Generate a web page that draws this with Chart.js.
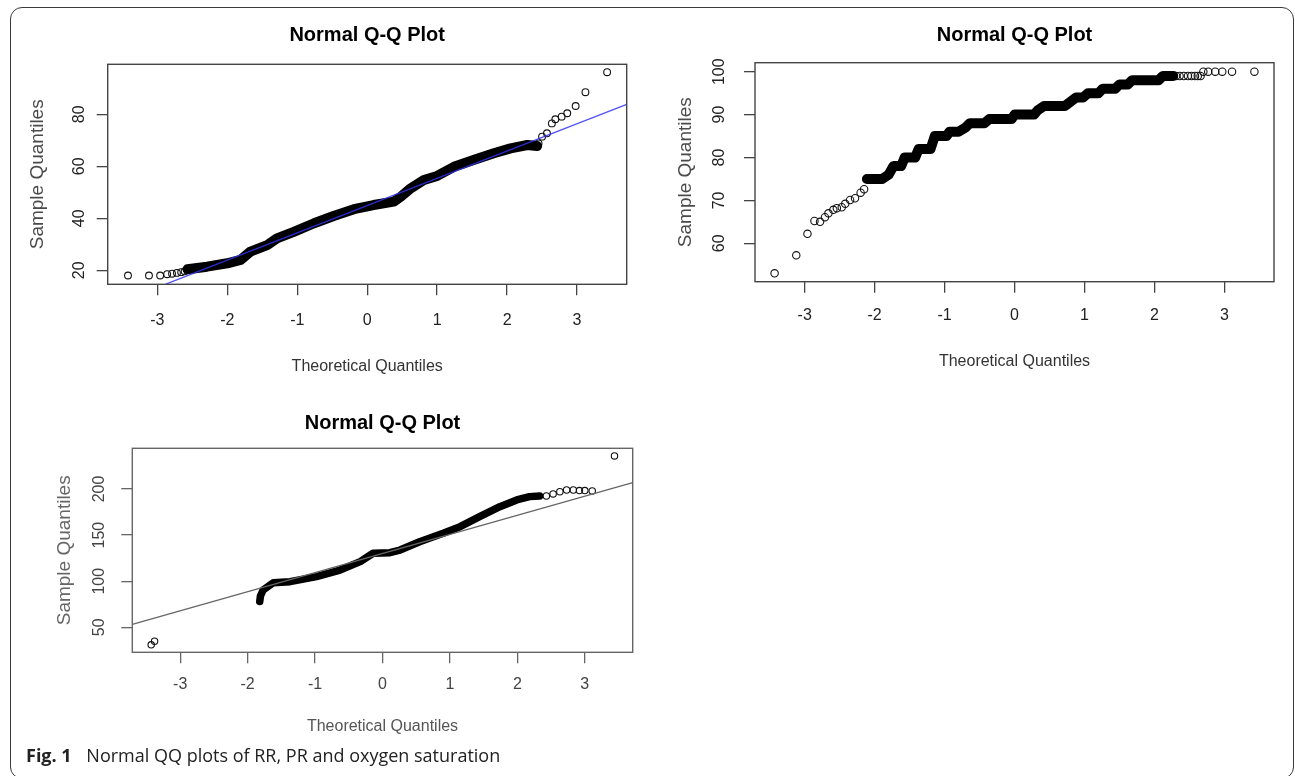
<!DOCTYPE html>
<html><head><meta charset="utf-8">
<script src="https://cdn.jsdelivr.net/npm/chart.js@4.4.1/dist/chart.umd.min.js"></script>
<style>
html,body{margin:0;padding:0;background:#fff;}
body{width:1295px;height:776px;position:relative;overflow:hidden;}
#frame{position:absolute;left:10px;top:7px;width:1284px;height:772px;border:1.5px solid #3a3a3a;border-radius:12px;box-sizing:border-box;}
canvas{position:absolute;}
#cap{position:absolute;left:26px;top:743px;font-family:'Open Sans','Noto Sans',sans-serif;font-size:18px;line-height:24px;color:#222;white-space:nowrap;}
#cap b{font-weight:700;margin-right:10px;}
</style></head><body>
<div id="frame"></div>
<canvas id="c1" width="620" height="375" style="left:15px;top:10px"></canvas>
<canvas id="c2" width="630" height="375" style="left:660px;top:10px"></canvas>
<canvas id="c3" width="610" height="350" style="left:40px;top:395px"></canvas>
<div id="cap"><b>Fig. 1</b> Normal QQ plots of RR, PR and oxygen saturation</div>
<script>
// ---- tick labels ----
const xTicks = [-3, -2, -1, 0, 1, 2, 3];
const yTicksRR = [20, 40, 60, 80];
const yTicksSpO2 = [60, 70, 80, 90, 100];
const yTicksPR = [50, 100, 150, 200];

// ---- Plot 1 (top left) ----
const rrLowTheo   = [-3.42, -3.12, -2.96, -2.86, -2.79, -2.72, -2.66, -2.61];
const rrLowSample = [18, 18, 18, 18.5, 18.7, 19, 19.3, 19.6];
const rrBandTheo   = [-2.57, -2.29, -2.0, -1.81, -1.67, -1.43, -1.29, -1.05, -0.76, -0.48, -0.19, 0.09, 0.38, 0.48, 0.62, 0.81, 1.0, 1.24, 1.52, 1.81, 2.05, 2.29, 2.43];
const rrBandSample = [20.4, 21.4, 22.7, 24, 27.2, 29.7, 32.3, 34.8, 38.1, 40.9, 43.5, 45.1, 46.4, 48.3, 51.5, 54.7, 56.3, 59.8, 62.4, 65, 66.9, 68.2, 67.8];
const rrHighTheo   = [2.45, 2.50, 2.57, 2.64, 2.69, 2.78, 2.86, 2.98, 3.12, 3.43];
const rrHighSample = [68.8, 71.4, 72.7, 76.5, 78.1, 79.1, 80.4, 83.2, 88.5, 96.2];
const rrLineTheo   = [-2.88, 3.71];
const rrLineSample = [14.7, 83.8];

// ---- Plot 2 (top right) ----
const spLowTheo   = [-3.43, -3.12, -2.96, -2.86, -2.78, -2.71, -2.66, -2.59, -2.54, -2.47, -2.42, -2.35, -2.28, -2.20, -2.15];
const spLowSample = [53.0, 57.2, 62.2, 65.2, 65.0, 66.1, 67.0, 67.8, 68.2, 68.4, 69.2, 70.1, 70.5, 71.8, 72.6];
const spBandTheo   = [-2.11, -1.89, -1.80, -1.73, -1.62, -1.57, -1.42, -1.37, -1.20, -1.14, -0.97, -0.93, -0.80, -0.70, -0.64, -0.43, -0.36, -0.04, 0.0, 0.28, 0.33, 0.42, 0.72, 0.80, 0.88, 0.98, 1.05, 1.20, 1.26, 1.44, 1.50, 1.62, 1.68, 2.06, 2.12, 2.27];
const spBandSample = [75, 75, 76, 78, 78, 80, 80, 82, 82, 85, 85, 86, 86, 87, 88, 88, 89, 89, 90, 90, 91, 92, 92, 93, 94, 94, 95, 95, 96, 96, 97, 97, 98, 98, 99, 99];
const spHighTheo   = [2.31, 2.36, 2.42, 2.48, 2.53, 2.58, 2.62, 2.66, 2.70, 2.77, 2.87, 2.97, 3.11, 3.43];
const spHighSample = [99, 99, 99, 99, 99, 99, 99, 99, 100, 100, 100, 100, 100, 100];

// ---- Plot 3 (bottom) ----
const prLowTheo   = [-3.43, -3.38];
const prLowSample = [31, 35];
const prBandTheo   = [-1.82, -1.81, -1.77, -1.62, -1.37, -0.98, -0.63, -0.33, -0.14, 0.11, 0.26, 0.55, 0.90, 1.15, 1.44, 1.74, 1.99, 2.18, 2.33];
const prBandSample = [78, 84, 90.5, 98.4, 99.5, 104.9, 112.1, 121.2, 130.3, 130.9, 133.8, 142.8, 152, 159.1, 170, 180.8, 188.1, 191.7, 192.4];
const prHighTheo   = [2.43, 2.53, 2.63, 2.73, 2.83, 2.92, 3.0, 3.11, 3.44];
const prHighSample = [192.4, 194.6, 197, 198.9, 198.9, 198.3, 198.3, 197.8, 235.8];
const prLineTheo   = [-3.71, 3.71];
const prLineSample = [53.3, 206.8];

Chart.defaults.font.family = "'Liberation Sans', Arial, sans-serif";

const pts = (xs, ys) => xs.map((x, i) => ({x: x, y: ys[i]}));

const framePlugin = {
  id: 'frame',
  afterDatasetsDraw(chart, args, opts) {
    const a = chart.chartArea, ctx = chart.ctx;
    ctx.save();
    ctx.strokeStyle = opts.color || '#444';
    ctx.lineWidth = 1.4;
    ctx.strokeRect(a.left, a.top, a.right - a.left, a.bottom - a.top);
    ctx.restore();
  }
};

function makeQQ(id, c) {
  const datasets = [];
  if (c.line) datasets.push({type: 'line', data: c.line, borderColor: c.lineColor, borderWidth: 1.3, pointRadius: 0, showLine: true, fill: false});
  datasets.push({type: 'line', data: c.band, borderColor: '#000', borderWidth: c.bandW, borderJoinStyle: 'round', borderCapStyle: 'round', pointRadius: 0, showLine: true, fill: false});
  c.sparse.forEach(s => datasets.push({type: 'scatter', data: s, pointRadius: c.pr, pointBorderWidth: 1.1, pointBorderColor: '#111', pointBackgroundColor: 'rgba(0,0,0,0)', showLine: false}));
  return new Chart(document.getElementById(id), {
    type: 'scatter',
    data: {datasets: datasets},
    options: {
      responsive: false, animation: false, devicePixelRatio: 1,
      events: [],
      layout: {padding: {left: 0, right: c.padR, top: 0, bottom: 0}},
      plugins: {
        legend: {display: false}, tooltip: {enabled: false},
        frame: {color: c.frame},
        title: {display: true, text: 'Normal Q-Q Plot', fullSize: false, color: '#000',
                font: {size: 20, weight: 'bold'}, padding: {top: c.tTop, bottom: c.tBot}}
      },
      scales: {
        x: {
          type: 'linear', min: -3.71, max: 3.71,
          afterBuildTicks: s => { s.ticks = xTicks.map(v => ({value: v})); },
          afterFit: s => { s.height = c.hx; },
          grid: {drawOnChartArea: false, drawTicks: true, tickLength: 11, color: c.frame, lineWidth: 1.3},
          border: {display: false},
          ticks: {padding: c.xtPad, color: c.tick, font: {size: 16}, maxRotation: 0, autoSkip: false, callback: v => String(v)},
          title: {display: true, text: 'Theoretical Quantiles', color: c.titleCol, font: {size: 16}, padding: {top: 0, bottom: c.xTitlePad}}
        },
        y: {
          type: 'linear', min: c.yMin, max: c.yMax,
          afterBuildTicks: s => { s.ticks = c.yTicks.map(v => ({value: v})); },
          afterFit: s => { s.width = c.wy; },
          grid: {drawOnChartArea: false, drawTicks: true, tickLength: 11, color: c.frame, lineWidth: 1.3},
          border: {display: false},
          ticks: {padding: c.ytPad, color: c.tick, font: {size: 16}, minRotation: 90, maxRotation: 90, crossAlign: 'center', autoSkip: false, callback: v => String(v)},
          title: {display: true, text: 'Sample Quantiles', color: c.ytitleCol, font: {size: 19}, padding: {top: c.yTitlePad, bottom: 0}}
        }
      }
    },
    plugins: [framePlugin]
  });
}

makeQQ('c1', {
  band: pts(rrBandTheo, rrBandSample), bandW: 10,
  sparse: [pts(rrLowTheo, rrLowSample), pts(rrHighTheo, rrHighSample)], pr: 3.4,
  line: pts(rrLineTheo, rrLineSample), lineColor: 'rgba(50,50,245,0.85)',
  yTicks: yTicksRR, yMin: 14.62, yMax: 99.23,
  wy: 92.7, padR: 8.3, tTop: 13, tBot: 17.3, hx: 100.7, xtPad: 15.8, xTitlePad: 8.7, yTitlePad: 11.3, ytPad: 7.8,
  frame: '#444', tick: '#222', titleCol: '#333', ytitleCol: '#4a4a4a'
});
makeQQ('c2', {
  band: pts(spBandTheo, spBandSample), bandW: 10,
  sparse: [pts(spLowTheo, spLowSample), pts(spHighTheo, spHighSample)], pr: 3.7,
  yTicks: yTicksSpO2, yMin: 51.05, yMax: 102.1,
  wy: 95, padR: 16, tTop: 13, tBot: 15.7, hx: 103.3, xtPad: 13.7, xTitlePad: 13.7, yTitlePad: 14.3, ytPad: 10.65,
  frame: '#444', tick: '#222', titleCol: '#333', ytitleCol: '#4a4a4a'
});
makeQQ('c3', {
  band: pts(prBandTheo, prBandSample), bandW: 7.5,
  sparse: [pts(prLowTheo, prLowSample), pts(prHighTheo, prHighSample)], pr: 3.2,
  line: pts(prLineTheo, prLineSample), lineColor: '#666',
  yTicks: yTicksPR, yMin: 22.9, yMax: 244.1,
  wy: 92.3, padR: 17.3, tTop: 16.3, tBot: 13, hx: 92.7, xtPad: 12.1, xTitlePad: 8.7, yTitlePad: 13.6, ytPad: 7.95,
  frame: '#666', tick: '#444', titleCol: '#555', ytitleCol: '#666'
});
</script>
</body></html>
